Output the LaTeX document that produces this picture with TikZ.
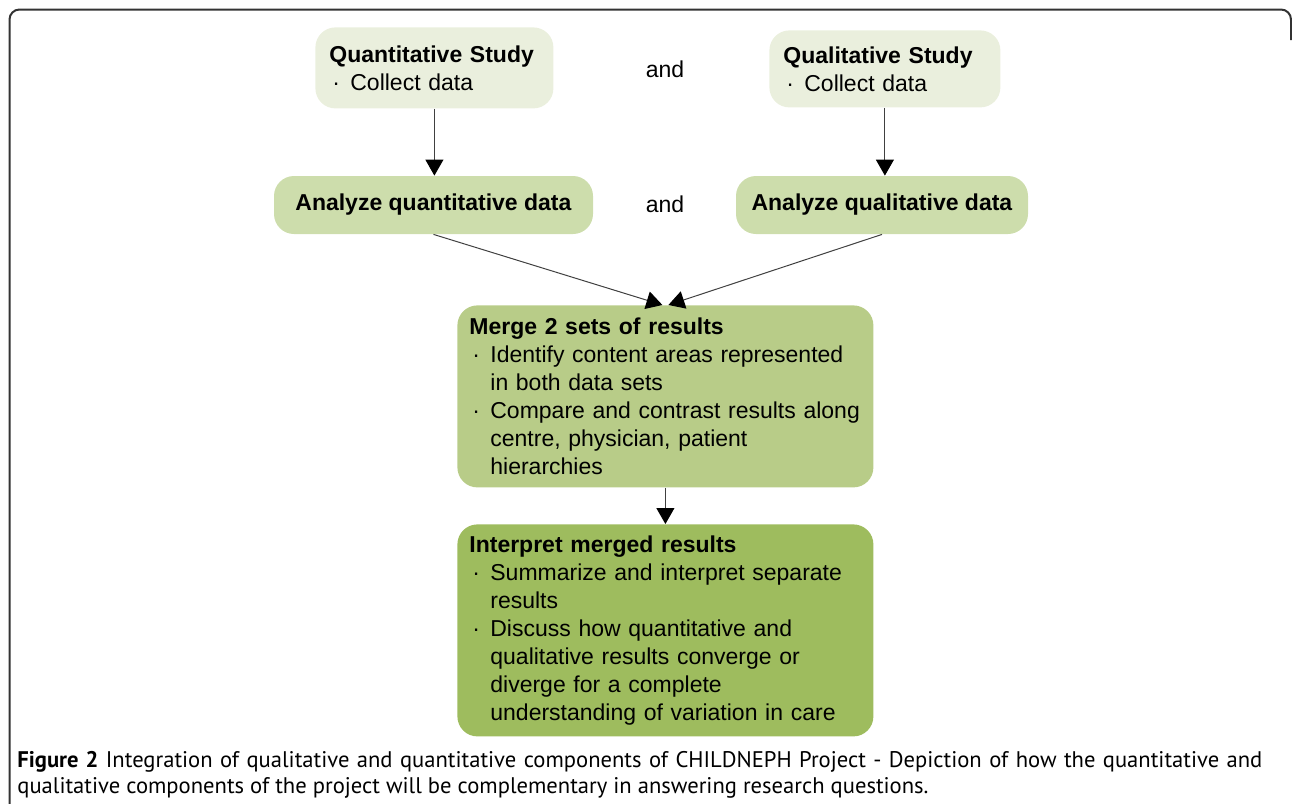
\documentclass[tikz,border=0pt]{standalone}
\usepackage{fontspec}
\setmainfont{Liberation Sans}
\newfontfamily\capfont{PT Sans}
\usetikzlibrary{arrows.meta}

\definecolor{studyfill}{HTML}{EAEFDD}
\definecolor{analyzefill}{HTML}{CDDDAC}
\definecolor{mergefill}{HTML}{B8CC88}
\definecolor{interpfill}{HTML}{9EBC5E}
\definecolor{linkgray}{HTML}{404040}

\newcommand{\bul}{\makebox[10.5pt][l]{\hspace{1.5pt}·}}
\newcommand{\ind}{\hspace*{10.5pt}}

\tikzset{
	box/.style={rounded corners=10pt, inner ysep=0pt, font=\fontsize{11.5}{14}\selectfont},
	studybox/.style={box, fill=studyfill, anchor=north west, inner xsep=7pt, align=left},
	analyzebox/.style={box, fill=analyzefill, align=center, minimum height=29pt},
	stepbox/.style={box, anchor=north west, inner xsep=6pt, text width=196pt, align=left},
	link/.style={draw=linkgray, line width=0.5pt, -{Triangle[width=9pt,length=8pt,color=black]}}
}

\begin{document}
\begin{tikzpicture}[x=0.5pt, y=-0.5pt]
	\useasboundingbox (0,0) rectangle (1292,804);
	% frame round the figure
	\draw[line width=1pt, draw=black!80, rounded corners=5pt] (9.5,804) -- (9.5,9.5) -- (1291,9.5) -- (1291,40);

	% the two studies
	\node [studybox, text width=105pt, minimum height=40.5pt] (quant) at (315,27)
		{\textbf{Quantitative Study}\\ \bul Collect data};
	\node [studybox, text width=101.5pt, minimum height=38.5pt] (qual) at (769,30)
		{\textbf{Qualitative Study}\\ \bul Collect data};
	\node [font=\fontsize{11.5}{14}\selectfont] (and1) at (665,69) {and};

	% analysis
	\node [analyzebox, minimum width=159.5pt] (aquant) at (433.5,205) {\textbf{Analyze quantitative data}};
	\node [analyzebox, minimum width=146pt] (aqual) at (882,205) {\textbf{Analyze qualitative data}};
	\node [font=\fontsize{11.5}{14}\selectfont] (and2) at (665,204) {and};

	% merge and interpret
	\node [stepbox, fill=mergefill, minimum height=91pt] (merge) at (457,305)
		{\textbf{Merge 2 sets of results}\\
		\bul Identify content areas represented\\
		\ind in both data sets\\
		\bul Compare and contrast results along\\
		\ind centre, physician, patient\\
		\ind hierarchies};
	\node [stepbox, fill=interpfill, minimum height=106pt] (interp) at (457,524)
		{\textbf{Interpret merged results}\\
		\bul Summarize and interpret separate\\
		\ind results\\
		\bul Discuss how quantitative and\\
		\ind qualitative results converge or\\
		\ind diverge for a complete\\
		\ind understanding of variation in care};

	% connectors
	\draw[link] (quant.south) -- (quant.south |- aquant.north);
	\draw[link] (qual.south) -- (qual.south |- aqual.north);
	\draw[link] (aquant.south) -- ([xshift=-1.5pt]merge.north);
	\draw[link] (aqual.south) -- ([xshift=1.5pt]merge.north);
	\draw[link] (merge.south) -- (interp.north);

	% caption
	\node [anchor=north west, inner sep=0pt, text width=622.5pt, align=justify,
		font=\capfont\fontsize{11.3}{13}\selectfont] (caption) at (17,751)
		{\textbf{Figure 2} Integration of qualitative and quantitative components of CHILDNEPH Project - Depiction of how the quantitative and\linebreak qualitative components of the project will be complementary in answering research questions.};
\end{tikzpicture}
\end{document}
